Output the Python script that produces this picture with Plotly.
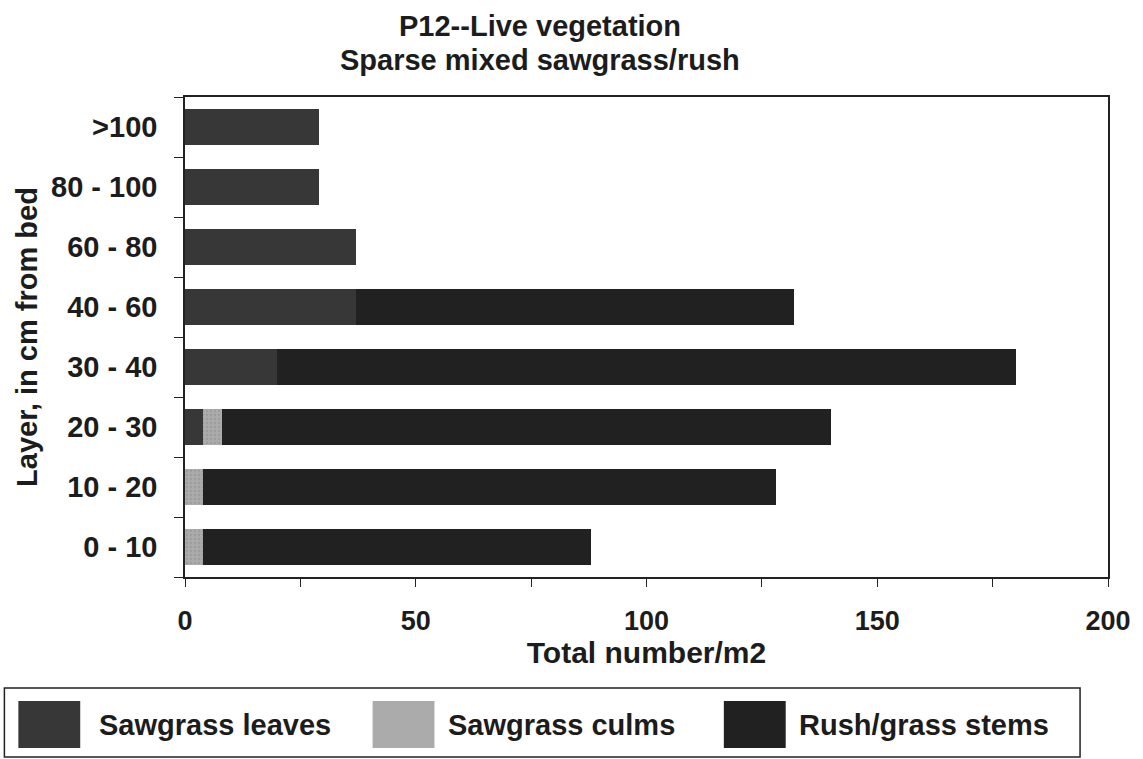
import plotly.graph_objects as go

# Layers, bottom to top
layers = ["0 - 10", "10 - 20", "20 - 30", "30 - 40", "40 - 60", "60 - 80", "80 - 100", ">100"]

# Number of live stems/leaves per square metre in each layer
sawgrass_leaves = [0, 0, 4, 20, 37, 37, 29, 29]
sawgrass_culms = [4, 4, 4, 0, 0, 0, 0, 0]
rush_grass_stems = [84, 124, 132, 160, 95, 0, 0, 0]

series_names = ["Sawgrass leaves", "Sawgrass culms", "Rush/grass stems"]
series_colors = ["#373737", "#ababab", "#212121"]

x_ticks = [0, 50, 100, 150, 200]

title_lines = ["P12--Live vegetation", "Sparse mixed sawgrass/rush"]

W, H = 1143, 759
L, R, T, B = 185, 33, 97, 182

TXT = "#1c1c1c"
FONT = "Liberation Sans, Arial, sans-serif"


def px_x(v):
    return (v - L) / (W - L - R)


def px_y(v):
    return (H - B - v) / (H - T - B)


fig = go.Figure()
for name, vals, col in zip(series_names, [sawgrass_leaves, sawgrass_culms, rush_grass_stems], series_colors):
    marker = dict(color=col, line=dict(width=0))
    if name == "Sawgrass culms":
        marker["pattern"] = dict(shape=".", fgcolor="#8c8c8c", bgcolor=col, size=4, solidity=0.25)
    fig.add_trace(go.Bar(y=layers, x=vals, orientation="h", name=name, marker=marker,
                         showlegend=False))

# Legend drawn as a framed strip below the plot
shapes = [dict(type="rect", xref="paper", yref="paper",
               x0=px_x(4), x1=px_x(1082), y0=px_y(688), y1=px_y(757),
               line=dict(color="#222222", width=1.5), fillcolor="rgba(0,0,0,0)")]
annotations = []
sw_left = [18, 373, 725]
txt_left = [97, 447, 798]
for name, col, sx, tx in zip(series_names, series_colors, sw_left, txt_left):
    swatch = dict(type="rect", xref="paper", yref="paper",
                  x0=px_x(sx), x1=px_x(sx + 62), y0=px_y(701), y1=px_y(748),
                  line=dict(width=0), fillcolor=col)
    shapes.append(swatch)
    annotations.append(dict(xref="paper", yref="paper", x=px_x(tx), y=px_y(724.5),
                            xanchor="left", yanchor="middle", showarrow=False,
                            text=f"<b>{name}</b>", font=dict(family=FONT, size=29, color=TXT)))

# Two-line heading
for line, yc in zip(title_lines, [26, 60]):
    annotations.append(dict(xref="paper", yref="paper", x=px_x(541), y=px_y(yc),
                            xanchor="center", yanchor="middle", showarrow=False,
                            text=f"<b>{line}</b>", font=dict(family=FONT, size=29, color=TXT)))

fig.update_layout(
    width=W, height=H,
    margin=dict(l=L, r=R, t=T, b=B),
    paper_bgcolor="white", plot_bgcolor="white",
    barmode="stack", bargap=0.4,
    font=dict(family=FONT, color=TXT),
    shapes=shapes, annotations=annotations,
)

fig.update_xaxes(
    range=[0, 200], tickvals=x_ticks, ticktext=[f"<b>{v}</b>" for v in x_ticks],
    ticks="outside", ticklen=8, tickcolor="#222", tickwidth=1,
    minor=dict(dtick=25, ticks="outside", ticklen=8, tickcolor="#222", tickwidth=1),
    showline=True, linecolor="#222", linewidth=1.5, mirror=True,
    showgrid=False, zeroline=False,
    tickfont=dict(family=FONT, size=27, color=TXT), ticklabelstandoff=11,
    title=dict(text="<b>Total number/m2</b>", font=dict(family=FONT, size=30, color=TXT), standoff=0),
)
fig.update_yaxes(
    categoryorder="array", categoryarray=layers,
    ticktext=[f"<b>{c}</b>" for c in layers], tickvals=layers,
    tickson="boundaries", ticks="outside", ticklen=9, tickcolor="#222", tickwidth=1,
    showline=True, linecolor="#222", linewidth=1.5, mirror=True,
    showgrid=False,
    tickfont=dict(family=FONT, size=29, color=TXT), ticklabelstandoff=20,
    title=dict(text="<b>Layer, in cm from bed</b>", font=dict(family=FONT, size=29, color=TXT), standoff=5),
)

fig.write_html("out.html")
